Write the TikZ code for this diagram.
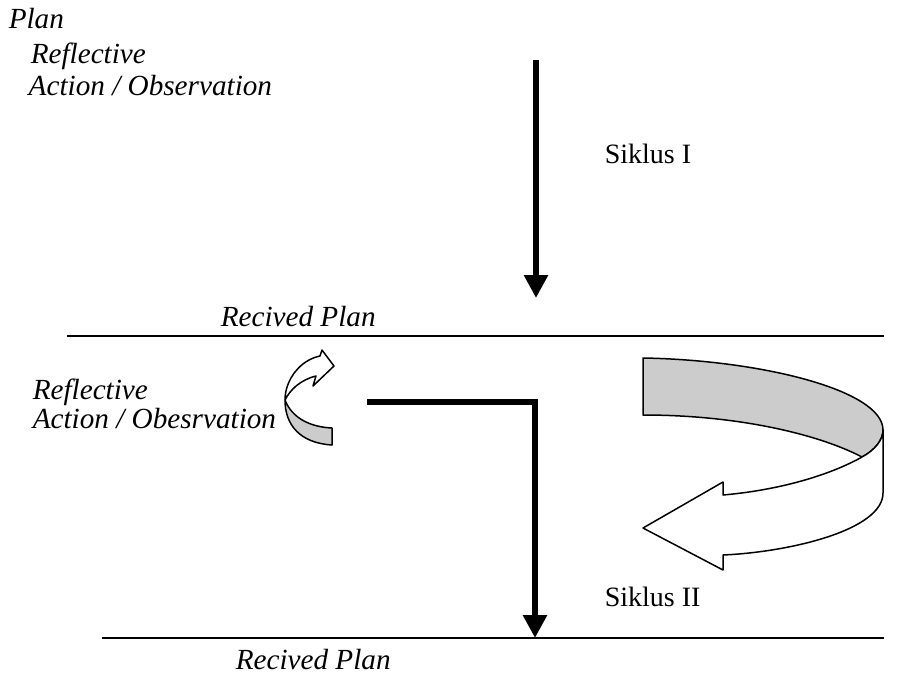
\documentclass[tikz,border=0pt]{standalone}
\usepackage{fontspec}
\setmainfont{Liberation Serif}
\usetikzlibrary{arrows.meta}
\definecolor{bandgray}{RGB}{204,204,204}
\tikzset{every picture/.style={line width=0.75pt}}
\tikzset{
  txt/.style={anchor=base west,inner sep=0pt,font=\fontsize{14}{17}\selectfont},
  itxt/.style={txt,font=\fontsize{14.6}{17}\selectfont\itshape},
  thickarrow/.style={line width=3pt,-{Triangle[length=11.5pt,width=11.5pt]}},
  planrule/.style={line width=1pt},
  band/.style={line width=0.75pt,line join=round}
}

\begin{document}
\begin{tikzpicture}[x=0.5pt,y=0.5pt,yscale=-1,xscale=1]
\path[use as bounding box] (0,0) rectangle (905,675);

% Text Node
\node[itxt] (plan) at (8,28) {Plan};
% Text Node
\node[itxt] (refl1) at (30,63) {Reflective};
% Text Node
\node[itxt] (act1) at (28,95) {Action / Observation};
% Text Node
\node[txt] (sik1) at (604,163) {Siklus I};
% Text Node
\node[itxt] (rplan1) at (220,326) {Recived Plan};
% Text Node
\node[itxt] (refl2) at (32,399) {Reflective};
% Text Node
\node[itxt] (act2) at (32,428) {Action / Obesrvation};
% Text Node
\node[txt] (sik2) at (604,606) {Siklus II};
% Text Node
\node[itxt] (rplan2) at (235,669) {Recived Plan};

%Straight Lines
\coordinate (r1w) at (67,336);
\coordinate (r1e) at (884,336);
\draw[planrule] (r1w) -- (r1e);
%Straight Lines
\coordinate (r2w) at (102,638);
\coordinate (r2e) at (884,638);
\draw[planrule] (r2w) -- (r2e);

%Arrow: Siklus I
\coordinate (a1s) at (536,60);
\coordinate (a1e) at (536,298);
\draw[thickarrow] (a1s) -- (a1e);

%Arrow: Siklus II (bent)
\coordinate (a2s) at (367,402);
\coordinate (a2c) at (535,402);
\draw[thickarrow] (a2s) -- (a2c) -- (r2w -| a2c);

%Shape: Curved Arrow (small)
\draw[band,fill=bandgray] (285,400) .. controls (292,418) and (310,427) .. (332,428) -- (332,445) .. controls (300,443) and (285,425) .. (285,400) -- cycle;
\draw[band,fill=white] (285,400) .. controls (285,380) and (300,360) .. (320,356) -- (322,350) -- (334,366) -- (313,386) -- (316,376) .. controls (300,380) and (290,390) .. (285,400) -- cycle;

%Shape: Curved Arrow (large)
\draw[band,fill=bandgray] (643,358) .. controls (760,360) and (883,390) .. (883,430) .. controls (883,440) and (875,450) .. (862,457) .. controls (820,435) and (740,415) .. (643,415) -- cycle;
\draw[band,fill=white] (883,430) -- (883,493) .. controls (883,530) and (790,552) .. (723,555) -- (723,570) -- (643,528) -- (723,482) -- (723,495) .. controls (780,490) and (830,475) .. (862,457) .. controls (875,450) and (883,440) .. (883,430) -- cycle;

\end{tikzpicture}
\end{document}
